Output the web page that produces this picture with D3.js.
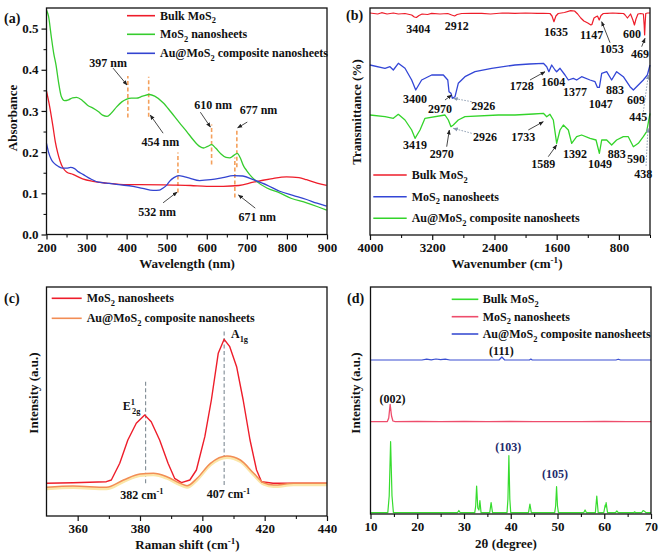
<!DOCTYPE html>
<html>
<head>
<meta charset="utf-8">
<script src="https://cdn.jsdelivr.net/npm/d3@7"></script>
<style>
  body { margin: 0; background: #fff; }
  svg { display: block; }
  text { font-family: "Liberation Serif", "Times New Roman", serif; font-weight: bold; fill: #111; }
</style>
</head>
<body>
<svg width="661" height="556"></svg>
<script>
// ---------- (a) UV-vis: [wavelength nm, absorbance]
const uvBulk = [[200,0.348],[208,0.31],[216,0.263],[222,0.225],[228,0.198],[234,0.178],[241,0.162],[250,0.152],[266,0.146],[290,0.135],[316,0.129],[349,0.125],[400,0.121],[432,0.121],[516,0.12],[560,0.119],[600,0.117],[641,0.117],[680,0.119],[716,0.127],[760,0.135],[799,0.14],[830,0.138],[849,0.133],[875,0.125],[899,0.119]];
const uvNano = [[200,0.545],[205,0.53],[212,0.48],[218,0.44],[224,0.41],[230,0.37],[237,0.335],[245,0.325],[255,0.327],[265,0.332],[275,0.333],[290,0.325],[305,0.312],[316,0.307],[330,0.298],[340,0.29],[351,0.287],[362,0.295],[375,0.31],[388,0.322],[399,0.328],[412,0.331],[424,0.331],[440,0.336],[457,0.34],[470,0.336],[491,0.32],[510,0.298],[532,0.271],[550,0.25],[566,0.23],[582,0.214],[592,0.21],[602,0.214],[612,0.218],[622,0.21],[635,0.196],[648,0.187],[657,0.186],[666,0.191],[676,0.197],[684,0.185],[692,0.166],[699,0.156],[712,0.14],[724,0.129],[750,0.113],[782,0.101],[810,0.088],[849,0.077],[875,0.068],[899,0.059]];
const uvAu = [[200,0.221],[205,0.2],[212,0.182],[220,0.172],[230,0.165],[241,0.161],[250,0.161],[260,0.163],[270,0.16],[280,0.152],[291,0.146],[310,0.135],[330,0.127],[349,0.125],[380,0.121],[416,0.117],[440,0.112],[466,0.107],[482,0.108],[491,0.113],[500,0.12],[507,0.129],[518,0.138],[530,0.143],[545,0.14],[557,0.137],[582,0.131],[610,0.133],[640,0.138],[666,0.143],[690,0.142],[716,0.133],[750,0.12],[782,0.105],[815,0.095],[849,0.085],[875,0.076],[899,0.069]];
// dashed markers: [nm, from, to]
const uvMarks = [[403,0.284,0.385],[455,0.286,0.383],[612,0.17,0.267],[675,0.163,0.257],[528,0.102,0.199],[670,0.09,0.187]];
// labels: text, text pos, arrow from, arrow to
const uvLabels = [
  ["397 nm", 354, 0.416, 366, 0.404, 401, 0.363],
  ["454 nm", 484, 0.225, 491, 0.246, 459, 0.29],
  ["610 nm", 616, 0.314, 584, 0.297, 609, 0.261],
  ["677 nm", 729, 0.302, 701, 0.273, 677, 0.259],
  ["532 nm", 476, 0.055, 491, 0.077, 526, 0.103],
  ["671 nm", 726, 0.043, 721, 0.064, 679, 0.096]
];

// ---------- (b) FTIR: [wavenumber, transmittance (a.u.)]
const irBulk = [[4000,222],[3900,221],[3850,222.3],[3780,221],[3700,222],[3636,221],[3550,221.5],[3464,220],[3430,218],[3404,217.5],[3370,219.5],[3330,221],[3260,220.5],[3207,221.7],[3100,221],[3000,221.5],[2950,220],[2912,219],[2880,220.5],[2820,221.5],[2700,221.7],[2564,221.7],[2450,221],[2300,222],[2136,221.7],[2000,222],[1850,221.7],[1772,221.7],[1686,221.5],[1660,219],[1635,213.3],[1610,219],[1580,221.5],[1500,222.5],[1420,224.3],[1370,224],[1330,221],[1290,217],[1250,214],[1200,212],[1160,210],[1147,210.5],[1120,217],[1094,218.3],[1075,219],[1053,215],[1030,219.5],[1000,221.5],[950,221.7],[880,222],[800,221.7],[740,221.5],[720,220],[690,217],[670,219],[650,221],[620,215],[600,210],[580,216],[555,221],[520,221.5],[485,221],[475,210],[469,200],[462,212],[455,221.5],[430,222],[400,222]];
const irNano = [[4000,170],[3807,166.7],[3743,168.3],[3700,165],[3636,171.7],[3550,166.7],[3464,155],[3412,145],[3336,155],[3207,160],[3057,160],[3000,155],[2984,143.3],[2959,141.7],[2941,136.7],[2907,138.3],[2865,151.7],[2779,158.3],[2650,163.3],[2436,166.7],[2136,170],[1950,171],[1771,171.7],[1728,168.3],[1700,163.3],[1664,170],[1621,165],[1600,163.3],[1557,166.7],[1493,160],[1450,155],[1386,156.7],[1343,155],[1279,158.3],[1171,155],[1107,153.3],[1077,147.7],[1051,147.7],[1021,161.7],[957,163.3],[893,155],[829,163.3],[743,158.3],[657,148.3],[614,145],[550,150],[486,155],[434,160],[400,170]];
const irAu = [[4000,120],[3807,118.3],[3700,116.7],[3636,120.7],[3550,115],[3464,105],[3421,96.7],[3357,105],[3293,116.7],[3036,120],[2993,115],[2959,108.3],[2929,110],[2865,115],[2779,118.3],[2350,120],[2136,120],[1900,121],[1771,121.7],[1728,118.3],[1686,120.7],[1643,115],[1600,91.7],[1557,105],[1514,110],[1450,105],[1407,91.7],[1343,98.3],[1279,100],[1171,96.7],[1094,95],[1051,81.7],[1021,95],[957,95],[893,90],[829,95],[743,98.3],[679,98.3],[614,88.3],[550,91.7],[486,98.3],[443,103.3],[400,121.7]];
// labels: text, x, y, [arrow x1,y1,x2,y2, dotted]
const irLabels = [
  ["3404",3379,206.7],["2912",2885,209],["1635",1609,203.3],["1147",1150,200],
  ["1053",892,186.7,[914,192.3,1021,213.3,0]],["600",632,201.7],
  ["469",529,181.7,[507,188.3,464,196.7,0]],
  ["3400",3421,136.7],["2970",3100,126.7,[3036,135,2950,140,0]],
  ["2926",2543,129,[2692,133.3,2929,136.7,1]],["1728",2050,149,[1943,155,1750,163.3,0]],
  ["1604",1643,153.3],["1377",1364,143.3],["1047",1034,131.7],["883",850,145],["609",580,135],
  ["445",550,118.3,[486,123.3,421,160,1]],
  ["3419",3421,90],["2970",3078,81,[3014,88.3,2980,105,0]],
  ["2926",2521,98.3,[2692,101.7,2929,106.7,1]],["1733",2029,98.3,[1965,105,1772,113.3,0]],
  ["1589",1772,71.7,[1708,78.3,1600,90,0]],["1392",1364,81],["1049",1043,71.7],
  ["883",828,81],["590",580,76.7],["438",486,61.7,[451,69,426,107,1]]
];

// ---------- (c) Raman: [shift cm-1, intensity]
const ramanNano = [[350,32.7],[358.5,33.3],[369.2,34.3],[370.8,36],[373.5,52.7],[376.1,76],[378.8,92.7],[381.5,101],[383.6,94.3],[386.3,76],[389,52.7],[391.1,37.7],[393.3,33.3],[396,36],[398.1,46],[400.8,79.3],[402.9,116],[405.1,162.7],[407,176.7],[408.8,169.3],[411,149.3],[413.1,116],[415.3,76],[417.4,46],[419,34.3],[422.7,32.7],[430,32.7],[440,32.7]];
const ramanAu = [[350,28.7],[358.5,30],[369.2,28.7],[374.7,36],[380,42],[384.3,42.7],[388.6,39.3],[392.9,32.7],[395.1,30.3],[398.3,37.7],[402.6,52.7],[407.9,60],[412.2,56],[416.5,42.7],[419.7,33.3],[422.9,31],[429.3,32.7],[440,32.7]];
const ramanMarks = [[381.8,32.7,134.3],[407,31,186]];

// ---------- (d) XRD: [2theta, intensity]
const xrdBulk = [[10,1.3],[13.7,1.3],[14.0,18],[14.3,72.3],[14.6,18],[14.9,1.3],[28.6,1.3],[28.9,3.5],[29.2,1.3],[32.3,1.3],[32.5,8],[32.7,28],[32.95,6],[33.2,4],[33.4,13.3],[33.65,1.3],[35.5,1.3],[35.8,11.3],[36.1,1.3],[39.2,1.3],[39.4,15],[39.6,58.3],[39.8,15],[40.0,1.3],[43.8,1.3],[44.1,10],[44.4,1.3],[49.4,1.3],[49.6,8],[49.8,27.3],[50.0,8],[50.2,1.3],[55.6,1.3],[55.9,4],[56.2,1.3],[58.1,1.3],[58.4,18],[58.7,1.3],[59.9,1.3],[60.2,9],[60.3,7],[60.4,11.3],[60.7,1.3],[62.4,1.3],[62.7,3],[63.0,1.3],[66.3,1.3],[66.5,2.2],[66.7,1.3],[68.0,1.3],[68.3,3.5],[68.6,2.8],[68.9,1.3],[70,1.3]];
const xrdNano = [[10,92.3],[13.6,92.4],[13.9,96],[14.2,109.7],[14.5,98],[14.8,93],[15.3,92.3],[20,92.6],[25,92.3],[30,92.5],[35,92.3],[40,92.5],[45,92.3],[50,92.4],[55,92.3],[60,92.5],[65,92.3],[70,92.4]];
const xrdAu = [[10,154],[21,154],[22,154.8],[23,154.2],[24,155],[25,154.3],[26,154.8],[27,154],[37.5,154],[38.1,157],[38.7,154],[44,154],[44.3,155],[44.6,154],[62.5,154],[63,154.8],[63.5,154],[70,154]];
const xrdLabels = [["(111)",38.0,163,"#111"],["(002)",14.7,115.7,"#111"],["(103)",39.45,67.3,"#1d2a6b"],["(105)",49.45,40,"#1d2a6b"]];

const legendNames = ["Bulk MoS_{2}", "MoS_{2} nanosheets", "Au@MoS_{2} composite nanosheets"];

const svg = d3.select("svg");
const defs = svg.append("defs");
[["arrowDark", "#222"], ["arrowGray", "#8797ad"]].forEach(([id, c]) => {
  defs.append("marker").attr("id", id).attr("viewBox", "0 0 10 10")
    .attr("refX", 9).attr("refY", 5).attr("markerWidth", 5).attr("markerHeight", 5)
    .attr("markerUnits", "userSpaceOnUse").attr("orient", "auto")
    .append("path").attr("d", "M0,1 L10,5 L0,9 z").attr("fill", c);
});

// text with _{sub} and ^{sup}
function richText(sel, str, size) {
  const parts = str.split(/(_\{[^}]*\}|\^\{[^}]*\})/).filter(s => s);
  let shift = 0;
  parts.forEach(p => {
    let t = p, target = 0, fs = size, dx = 0;
    if (p.startsWith("_{")) { t = p.slice(2, -1); target = size * 0.3; fs = size * 0.7; }
    else if (p.startsWith("^{")) { t = p.slice(2, -1); target = -size * 0.4; fs = size * 0.7; }
    if (t.startsWith("~")) { t = t.slice(1); dx = -size * 0.25; }
    sel.append("tspan").attr("dy", target - shift).attr("dx", dx).attr("font-size", fs).text(t);
    shift = target;
  });
  return sel;
}

function panelFrame(x, y) {
  const [x0, x1] = x.range(), [y0, y1] = y.range();
  svg.append("rect").attr("x", x0).attr("y", y1).attr("width", x1 - x0).attr("height", y0 - y1)
    .attr("fill", "none").attr("stroke", "#111").attr("stroke-width", 1.3);
}

function bottomAxis(x, y, majors, minors, fmt) {
  const y0 = y.range()[0];
  svg.append("g").attr("transform", `translate(0,${y0})`)
    .call(d3.axisBottom(x).tickValues(minors).tickSize(3).tickSizeOuter(0).tickFormat(""))
    .call(g => g.select(".domain").remove());
  const g = svg.append("g").attr("transform", `translate(0,${y0})`)
    .call(d3.axisBottom(x).tickValues(majors).tickSize(5).tickPadding(3).tickSizeOuter(0).tickFormat(fmt || d3.format("d")));
  g.select(".domain").remove();
  g.selectAll("line").attr("stroke", "#111").attr("stroke-width", 1.2);
  g.selectAll("text").attr("font-size", 13).attr("font-family", null).style("fill", "#111");
}

function leftAxis(x, y, majors, minors, fmt) {
  const x0 = x.range()[0];
  svg.append("g").attr("transform", `translate(${x0},0)`)
    .call(d3.axisLeft(y).tickValues(minors).tickSize(3).tickSizeOuter(0).tickFormat(""))
    .call(g => g.select(".domain").remove());
  const g = svg.append("g").attr("transform", `translate(${x0},0)`)
    .call(d3.axisLeft(y).tickValues(majors).tickSize(5).tickPadding(3).tickSizeOuter(0).tickFormat(fmt));
  g.select(".domain").remove();
  g.selectAll("line").attr("stroke", "#111").attr("stroke-width", 1.2);
  g.selectAll("text").attr("font-size", 13).attr("font-family", null).style("fill", "#111");
}

function curve(x, y, data, color, width, type) {
  return svg.append("path").datum(data)
    .attr("d", d3.line().x(d => x(d[0])).y(d => y(d[1])).curve(type || d3.curveLinear))
    .attr("fill", "none").attr("stroke", color).attr("stroke-width", width || 1.3)
    .attr("stroke-linejoin", "round");
}

function xTitle(cx, cy, str) {
  richText(svg.append("text").attr("x", cx).attr("y", cy).attr("text-anchor", "middle").attr("font-size", 13), str, 13);
}
function yTitle(cx, cy, str) {
  svg.append("text").attr("transform", `translate(${cx},${cy}) rotate(-90)`)
    .attr("text-anchor", "middle").attr("dy", "0.35em").attr("font-size", 13).text(str);
}
function panelTag(px, py, str) {
  svg.append("text").attr("x", px).attr("y", py).attr("font-size", 14).text(str);
}
function legend(x0, x1, tx, ys, colors, names) {
  names.forEach((n, i) => {
    svg.append("line").attr("x1", x0).attr("x2", x1).attr("y1", ys[i]).attr("y2", ys[i])
      .attr("stroke", colors[i]).attr("stroke-width", 1.6);
    richText(svg.append("text").attr("x", tx).attr("y", ys[i] + 4).attr("font-size", 12), n, 12);
  });
}
function arrow(x1, y1, x2, y2, dotted) {
  svg.append("line").attr("x1", x1).attr("y1", y1).attr("x2", x2).attr("y2", y2)
    .attr("stroke", dotted ? "#8797ad" : "#333").attr("stroke-width", 0.9)
    .attr("stroke-dasharray", dotted ? "1.6,1.4" : null)
    .attr("marker-end", dotted ? "url(#arrowGray)" : "url(#arrowDark)");
}

// ================= (a)
const xA = d3.scaleLinear([200, 900], [46.5, 327]);
const yA = d3.scaleLinear([0, 0.55], [234.5, 8]);
uvMarks.forEach(m => svg.append("line").attr("x1", xA(m[0])).attr("x2", xA(m[0]))
  .attr("y1", yA(m[1])).attr("y2", yA(m[2])).attr("stroke", "#f4a05c")
  .attr("stroke-width", 1.6).attr("stroke-dasharray", "4,2.5"));
curve(xA, yA, uvBulk, "#ee1d2a", 1.3, d3.curveMonotoneX);
curve(xA, yA, uvNano, "#36cc2e", 1.3, d3.curveMonotoneX);
curve(xA, yA, uvAu, "#3344d0", 1.3, d3.curveMonotoneX);
uvLabels.forEach(l => {
  svg.append("text").attr("x", xA(l[1])).attr("y", yA(l[2])).attr("dy", "0.35em")
    .attr("text-anchor", "middle").attr("font-size", 12).text(l[0]);
  arrow(xA(l[3]), yA(l[4]), xA(l[5]), yA(l[6]), false);
});
panelFrame(xA, yA);
bottomAxis(xA, yA, d3.range(200, 901, 100), d3.range(250, 900, 100));
leftAxis(xA, yA, d3.range(0, 0.51, 0.1), d3.range(0.05, 0.55, 0.1), d3.format(".1f"));
legend(127, 155, 160, [15.7, 34.3, 53.3], ["#ee1d2a", "#36cc2e", "#3344d0"], legendNames);
xTitle(187, 268, "Wavelength (nm)");
yTitle(12, 118, "Absorbance");
panelTag(4, 23, "(a)");

// ================= (b)
const xB = d3.scaleLinear([4000, 400], [370, 650]);
const yB = d3.scaleLinear([0, 227], [235, 8]);
curve(xB, yB, irBulk, "#ee1d2a", 1.2);
curve(xB, yB, irNano, "#3346d6", 1.3);
curve(xB, yB, irAu, "#33d42a", 1.3);
irLabels.forEach(l => {
  svg.append("text").attr("x", xB(l[1])).attr("y", yB(l[2])).attr("dy", "0.35em")
    .attr("text-anchor", "middle").attr("font-size", 12).text(l[0]);
  if (l[3]) arrow(xB(l[3][0]), yB(l[3][1]), xB(l[3][2]), yB(l[3][3]), l[3][4]);
});
panelFrame(xB, yB);
bottomAxis(xB, yB, [4000, 3200, 2400, 1600, 800], [3600, 2800, 2000, 1200, 400]);
legend(373.3, 406.7, 411.7, [175, 196.7, 218.3], ["#ee1d2a", "#3346d6", "#33d42a"], legendNames);
xTitle(507, 268, "Wavenumber (cm^{-1})");
yTitle(356.5, 112, "Transmittance (%)");
panelTag(346, 20, "(b)");

// ================= (c)
const xC = d3.scaleLinear([350, 440], [46.5, 327]);
const yC = d3.scaleLinear([0, 229], [516, 287]);
ramanMarks.forEach(m => svg.append("line").attr("x1", xC(m[0])).attr("x2", xC(m[0]))
  .attr("y1", yC(m[1])).attr("y2", yC(m[2])).attr("stroke", "#7f8b94")
  .attr("stroke-width", 1.1).attr("stroke-dasharray", "4,2.5"));
curve(xC, yC, ramanAu, "#fbe6a8", 3, d3.curveMonotoneX).attr("transform", "translate(0,1.5)");
curve(xC, yC, ramanNano, "#ee1d2a", 1.4);
curve(xC, yC, ramanAu, "#f28d55", 1.5, d3.curveMonotoneX);
richText(svg.append("text").attr("x", xC(374.5)).attr("y", yC(106)).attr("font-size", 12), "E^{1}_{~2g}", 12);
richText(svg.append("text").attr("x", xC(409.2)).attr("y", yC(178)).attr("font-size", 12), "A_{1g}", 12);
richText(svg.append("text").attr("x", xC(380.6)).attr("y", yC(21) + 4).attr("text-anchor", "middle").attr("font-size", 12), "382 cm^{-1}", 12);
richText(svg.append("text").attr("x", xC(408.4)).attr("y", yC(21.7) + 4).attr("text-anchor", "middle").attr("font-size", 12), "407 cm^{-1}", 12);
panelFrame(xC, yC);
bottomAxis(xC, yC, [360, 380, 400, 420, 440], [370, 390, 410, 430]);
legend(51.7, 81.7, 86.7, [298.3, 318.3], ["#ee1d2a", "#f28d55"], legendNames.slice(1));
xTitle(187.5, 549, "Raman shift (cm^{-1})");
yTitle(33, 393, "Intensity (a.u.)");
panelTag(4, 303, "(c)");

// ================= (d)
const xD = d3.scaleLinear([10, 70], [370.5, 651]);
const yD = d3.scaleLinear([0, 227], [514, 287]);
curve(xD, yD, xrdAu, "#3a4fd2", 1.2);
curve(xD, yD, xrdNano, "#ee4d6c", 1.3);
curve(xD, yD, xrdBulk, "#36dc2e", 1.2);
xrdLabels.forEach(l => svg.append("text").attr("x", xD(l[1])).attr("y", yD(l[2])).attr("dy", "0.35em")
  .attr("text-anchor", "middle").attr("font-size", 12).style("fill", l[3]).text(l[0]));
panelFrame(xD, yD);
bottomAxis(xD, yD, d3.range(10, 71, 10), d3.range(15, 70, 10));
legend(451.7, 478.3, 482.7, [299.3, 316.7, 334], ["#36dc2e", "#ee4d6c", "#3a4fd2"], legendNames);
xTitle(506, 548, "2θ (degree)");
yTitle(355, 393, "Intensity (a.u.)");
panelTag(347, 303, "(d)");
</script>
</body>
</html>
